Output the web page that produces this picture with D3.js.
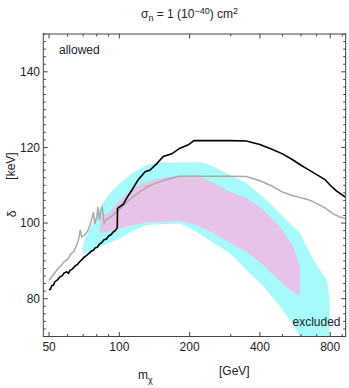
<!DOCTYPE html>
<html>
<head>
<meta charset="utf-8">
<script src="https://cdn.jsdelivr.net/npm/d3@7"></script>
<style>
  body { margin: 0; background: #fff; }
  text { font-family: "Liberation Sans", Arial, sans-serif; fill: #222; }
</style>
</head>
<body>
<script>
// delta vs m_chi, sigma_n = 1e-40 cm^2

// black curve (m [GeV], delta [keV])
var blackM = [50, 50.8, 51.3, 52.2, 53, 54.5, 55.5, 57, 58, 59.5, 60.5, 61.5, 63, 64.5, 66, 67.5, 69, 70.5, 72, 74, 76, 77.5, 79, 80.5, 82, 84, 86, 88, 90, 92, 94, 96, 98, 98.2,
  104, 108, 113.4, 120.3, 128.9, 135.4, 145, 154.3, 167.6, 181.9, 197.5, 208.8, 250, 300, 350, 400, 450, 500, 550, 600, 650, 700, 760, 800, 850, 932];
var blackD = [82.3, 82.6, 83.4, 83.6, 84.5, 85.0, 85.7, 86.1, 86.8, 87.1, 86.7, 87.5, 87.9, 88.6, 89.0, 89.7, 90.3, 90.9, 91.3, 92.0, 92.6, 92.8, 93.5, 93.6, 94.4, 94.8, 95.6, 95.8, 96.6, 96.9, 97.6, 98.0, 98.8, 103.9,
  105.0, 106.8, 108.8, 111.4, 113.6, 114.0, 115.8, 117.6, 118.3, 119.8, 120.7, 121.8, 121.8, 121.8, 121.7, 120.8, 119.5, 118.3, 116.8, 115.3, 114.0, 112.8, 111.5, 110.0, 108.5, 106.8];

// gray curve
var grayM = [50, 52, 54, 56, 58, 60, 62, 64, 66, 67, 68, 69, 71, 73, 75, 76.5, 77.5, 78.5, 80, 81, 82, 83.5, 84.5, 86, 88, 91, 94, 97, 100, 105, 110, 117, 124, 132, 140, 150, 160, 170, 180, 200, 300, 350, 400, 450, 500, 550, 600, 650, 700, 760, 820, 880, 932];
var grayD = [84.8, 86.2, 87.6, 88.6, 89.8, 90.4, 91.8, 92.6, 94.5, 95.8, 98.2, 96.3, 96.8, 97.8, 99.6, 101.5, 102.9, 99.8, 101.5, 104.2, 100.8, 103.5, 104.2, 100, 100.9, 101.4, 102.2, 102.9, 103.6, 104.8, 106.1, 107.4, 108.5, 109.6, 110.3, 111, 111.5, 112, 112.4, 112.4, 112.4, 112.3, 111.2, 109.8, 108.2, 107.3, 106.7, 106.1, 105.2, 104, 102.5, 101.6, 101.1];

// cyan band outline (upper edge left->right, then lower edge right->left)
var cyanM = [69.0, 71.1, 74.9, 78.6, 84.0, 91.0, 100.6, 113.4, 131.3, 149.3, 228.6, 261.3, 350.4, 427, 520, 594, 678, 774, 795, 795,
  594, 537, 488, 415, 350, 298, 253, 208, 182, 131, 115.7, 100.6, 82.7, 70.2];
var cyanD = [92.9, 95.5, 98.7, 101.3, 104.8, 107.9, 110.5, 113.2, 115.4, 116.0, 116.1, 114.5, 110.5, 106.1, 100.8, 97.3, 90.2, 84.9, 79.7, 70,
  70, 74.4, 77.9, 83.2, 87.6, 92.0, 94.7, 98.2, 99.9, 99.5, 98.2, 96.0, 93.8, 92.0];

// pink band outline
var pinkM = [82.7, 91.2, 100.7, 114.8, 131, 149.4, 181.9, 214.5, 252.6, 297.9, 351, 413.7, 487.7, 556, 594, 594,
  538, 472, 413.7, 351, 297.9, 252.6, 214.5, 181.9, 131, 114.8, 100.7, 91.2, 82.7];
var pinkD = [101.7, 103.0, 106.1, 109.2, 111.0, 111.9, 112.5, 112.7, 110.5, 108.3, 106.6, 103.5, 99.0, 93.8, 88.5, 81.0,
  82.3, 85.5, 88.9, 92.4, 94.7, 97.4, 99.5, 100.6, 100.2, 99.5, 98.6, 97.9, 97.3];

var xTicks = [50, 60, 70, 80, 90, 100, 200, 300, 400, 500, 600, 700, 800, 900];
var xLabels = [50, 100, 200, 400, 800];
var yTicks = d3.range(70, 151, 2);
var yLabels = [80, 100, 120, 140];

var W = 349, H = 388;
var x = d3.scaleLog().domain([47.24, 932]).range([43.3, 345.7]);
var y = d3.scaleLinear().domain([70, 150]).range([336.5, 34]);

var svg = d3.select("body").append("svg")
    .attr("width", W)
    .attr("height", H);

svg.append("defs").append("clipPath").attr("id", "clip")
  .append("rect")
    .attr("x", x.range()[0]).attr("y", y.range()[1])
    .attr("width", x.range()[1] - x.range()[0])
    .attr("height", y.range()[0] - y.range()[1]);

var line = d3.line()
    .x(function(d) { return x(d[0]); })
    .y(function(d) { return y(d[1]); });

function pairs(a, b) { return a.map(function(v, i) { return [v, b[i]]; }); }

var plot = svg.append("g").attr("clip-path", "url(#clip)");

plot.append("path")
    .attr("d", line(pairs(cyanM, cyanD)) + "Z")
    .style("fill", "#a6fafa");
plot.append("path")
    .attr("d", line(pairs(pinkM, pinkD)) + "Z")
    .style("fill", "#e8c3e8");
plot.append("path")
    .attr("d", line(pairs(grayM, grayD)))
    .style("fill", "none")
    .style("stroke", "#aaa")
    .style("stroke-width", 1.5);
plot.append("path")
    .attr("d", line(pairs(blackM, blackD)))
    .style("fill", "none")
    .style("stroke", "#000")
    .style("stroke-width", 1.6);

// frame
var x0 = x.range()[0], x1 = x.range()[1], y0 = y.range()[0], y1 = y.range()[1];
svg.append("rect")
    .attr("x", x0).attr("y", y1)
    .attr("width", x1 - x0).attr("height", y0 - y1)
    .style("fill", "none")
    .style("stroke", "#444")
    .style("stroke-width", 1);

// ticks, inward on all sides
var tk = svg.append("g").style("stroke", "#444").style("stroke-width", 1);
xTicks.forEach(function(v) {
    var len = xLabels.indexOf(v) >= 0 ? 4.5 : 2.5;
    tk.append("line").attr("x1", x(v)).attr("x2", x(v)).attr("y1", y0).attr("y2", y0 - len);
    tk.append("line").attr("x1", x(v)).attr("x2", x(v)).attr("y1", y1).attr("y2", y1 + len);
});
yTicks.forEach(function(v) {
    var len = yLabels.indexOf(v) >= 0 ? 4.5 : 2.5;
    tk.append("line").attr("x1", x0).attr("x2", x0 + len).attr("y1", y(v)).attr("y2", y(v));
    tk.append("line").attr("x1", x1).attr("x2", x1 - len).attr("y1", y(v)).attr("y2", y(v));
});

svg.append("g").selectAll("text")
    .data(xLabels).enter().append("text")
    .attr("x", function(d) { return x(d); })
    .attr("y", 351)
    .attr("text-anchor", "middle")
    .style("font-size", "12px")
    .text(function(d) { return d; });

svg.append("g").selectAll("text")
    .data(yLabels).enter().append("text")
    .attr("x", 40)
    .attr("y", function(d) { return y(d) + 4.3; })
    .attr("text-anchor", "end")
    .style("font-size", "12px")
    .text(function(d) { return d; });

// title
var title = svg.append("text")
    .attr("x", 141)
    .attr("y", 18)
    .style("font-size", "12px");
title.append("tspan").text("σ");
title.append("tspan").attr("dy", 3).style("font-size", "9px").text("n");
title.append("tspan").attr("dy", -3).text(" = 1 (10");
title.append("tspan").attr("dy", -4).style("font-size", "9px").text("−40");
title.append("tspan").attr("dy", 4).text(") cm");
title.append("tspan").attr("dy", -4).style("font-size", "9px").text("2");

// axis labels
var xl = svg.append("text")
    .attr("x", 138)
    .attr("y", 379)
    .style("font-size", "12px");
xl.append("tspan").text("m");
xl.append("tspan").attr("dy", 4).style("font-size", "9px").text("χ");

svg.append("text")
    .attr("x", 219)
    .attr("y", 375)
    .style("font-size", "12px")
    .text("[GeV]");

svg.append("text")
    .attr("transform", "translate(16,214) rotate(-90)")
    .attr("text-anchor", "middle")
    .style("font-size", "12px")
    .text("δ");

svg.append("text")
    .attr("transform", "translate(15,166) rotate(-90)")
    .attr("text-anchor", "middle")
    .style("font-size", "12px")
    .text("[keV]");

// region labels
svg.append("text")
    .attr("x", 59)
    .attr("y", 54)
    .style("font-size", "12px")
    .text("allowed");

svg.append("text")
    .attr("x", 340.5)
    .attr("y", 326)
    .attr("text-anchor", "end")
    .style("font-size", "12px")
    .text("excluded");
</script>
</body>
</html>
